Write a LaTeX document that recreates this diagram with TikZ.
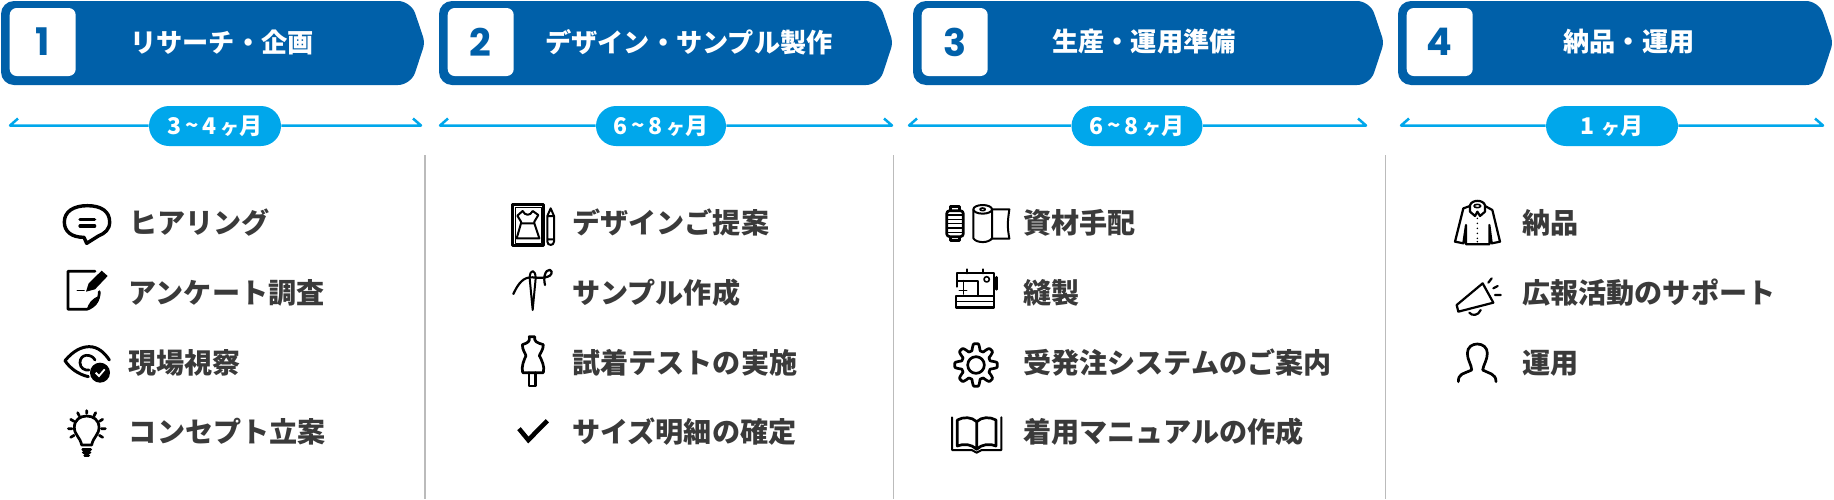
\documentclass[tikz,border=0pt]{standalone}
\usepackage{fontspec}
\setmainfont{Noto Sans CJK JP}
\newfontfamily\numfont{Poppins}
\definecolor{headblue}{HTML}{0060A9}
\definecolor{spanblue}{HTML}{00A7EB}
\definecolor{itemgray}{HTML}{3A3A3A}
\definecolor{sepgray}{HTML}{BBBBBB}
\tikzset{
  itemtext/.style={anchor=base west,inner sep=0pt,font=\fontsize{14.05}{16}\selectfont\bfseries,text=itemgray},
  headtitle/.style={inner sep=0pt,font=\fontsize{13.1}{15}\selectfont\bfseries,text=white},
  numbox/.style={fill=white,rounded corners=3.5pt,minimum width=33pt,minimum height=34pt,inner sep=0pt,font=\fontsize{19}{22}\selectfont\numfont\bfseries,text=headblue},
  pill/.style={fill=spanblue,rounded corners=10pt,minimum height=20pt,inner sep=0pt,font=\fontsize{11.5}{14}\selectfont\bfseries,text=white},
  spanline/.style={draw=spanblue,line width=1.25pt,line join=round},
  sepline/.style={draw=sepgray,line width=.7pt},
  icon/.style={draw=black,line width=1.35pt,line join=round,line cap=round},
  thin icon/.style={draw=black,line width=.8pt,line join=round,line cap=round},
  zA/.style={shift={(40,190)},scale=.33333},
  zB/.style={shift={(490,190)},scale=.33333},
  zC/.style={shift={(930,190)},scale=.33333},
  zD/.style={shift={(1430,190)},scale=.33333},
}
\newcommand{\headbar}[6]{% id, x0, x1, number, title, title centre
  \fill[headblue,rounded corners=6.5pt] (#2,43) -- (#2,1) -- ({#3-14},1) [rounded corners=3pt] -- (#3,42.5) [rounded corners=6.5pt] -- ({#3-14},85) -- (#2,85) -- cycle;
  \node[numbox] (#1box) at ({#2+41.7},42) {#4};
  \node[headtitle] (#1title) at (#6,42) {#5};
}
\newcommand{\spanbar}[6]{% id, left, right, pill centre, pill width, text
  \node[pill,minimum width=#5*.5pt] (#1pill) at (#4,126) {#6};
  \coordinate (#1l) at (#2,125.5); \coordinate (#1lh) at ({#2+8},118.5);
  \coordinate (#1r) at (#3,125.5); \coordinate (#1rh) at ({#3-8},118.5);
  \draw[spanline] (#1pill.west |- #1l) -- (#1l) -- (#1lh);
  \draw[spanline] (#1pill.east |- #1r) -- (#1r) -- (#1rh);
}
\newcommand{\mo}{{\fontsize{9.5}{12}\selectfont ヶ}}
\newcommand{\tld}{{\fontsize{11}{12}\selectfont\raisebox{.5pt}{\char"007E}}}
\begin{document}
\begin{tikzpicture}[x=.5pt,y=-.5pt]
\useasboundingbox (0,0) rectangle (1834,499);
\headbar{a}{1}{425}{1}{リサーチ・企画}{222}
\headbar{b}{439}{893}{2}{デザイン・サンプル製作}{689}
\headbar{c}{913}{1384}{3}{生産・運用準備}{1144}
\headbar{d}{1398}{1833}{4}{納品・運用}{1629}
\spanbar{a}{10}{421}{215}{132}{3\,\tld\,4\,\mo 月}
\spanbar{b}{440}{892}{661}{130}{6\,\tld\,8\,\mo 月}
\spanbar{c}{909}{1366}{1137}{131}{6\,\tld\,8\,\mo 月}
\spanbar{d}{1401}{1823}{1612}{132}{1\,\,\mo 月}
\coordinate (s1t) at (425,155); \coordinate (s1b) at (425,499);
\coordinate (s2t) at (893.5,155); \coordinate (s2b) at (893.5,499);
\coordinate (s3t) at (1385.5,155); \coordinate (s3b) at (1385.5,499);
\draw[sepline] (s1t) -- (s1b);
\draw[sepline] (s2t) -- (s2b);
\draw[sepline] (s3t) -- (s3b);
% column 1
\node[itemtext] (a1) at (129,233) {ヒアリング};
\node[itemtext] (a2) at (128.5,303) {アンケート調査};
\node[itemtext] (a3) at (128,373) {現場視察};
\node[itemtext] (a4) at (128.5,442) {コンセプト立案};
% column 2
\node[itemtext] (b1) at (572,233) {デザインご提案};
\node[itemtext] (b2) at (572,303) {サンプル作成};
\node[itemtext] (b3) at (572,373) {試着テストの実施};
\node[itemtext] (b4) at (572,442) {サイズ明細の確定};
% column 3
\node[itemtext] (c1) at (1023,233) {資材手配};
\node[itemtext] (c2) at (1023,303) {縫製};
\node[itemtext] (c3) at (1023,373) {受発注システムのご案内};
\node[itemtext] (c4) at (1023,442) {着用マニュアルの作成};
% column 4
\node[itemtext] (d1) at (1522,233) {納品};
\node[itemtext] (d2) at (1522,303) {広報活動のサポート};
\node[itemtext] (d3) at (1522,373) {運用};
% icons column 1
\begin{scope}[zA]
\draw[icon,line width=1.7pt] (132,142) .. controls (95,142) and (73,125) .. (73,96) .. controls (73,65) and (100,47) .. (142,47) .. controls (185,47) and (209,65) .. (209,96) .. controls (209,118) and (195,130) .. (175,138) -- (140,160) -- cycle;
\draw[icon,line width=1.6pt] (120,88) -- (164,88) (120,108) -- (164,108);
\draw[icon] (165,244) -- (84,244) -- (84,358) -- (140,358) .. controls (165,350) and (178,330) .. (178,305);
\fill (140,360) .. controls (145,340) and (155,325) .. (178,318) .. controls (178,340) and (165,352) .. (140,360) -- cycle;
\fill (185,242) -- (203,258) -- (165,298) -- (138,305) -- (146,280) -- cycle;
\draw[thin icon] (112,302) -- (132,302);
\draw[icon,line width=1.5pt] (75,512) .. controls (100,482) and (125,470) .. (148,470) .. controls (175,470) and (195,490) .. (208,510);
\draw[icon,line width=1.5pt] (75,512) .. controls (90,535) and (115,553) .. (145,560);
\draw[icon] (165,510) .. controls (155,490) and (120,490) .. (120,518) .. controls (120,535) and (135,542) .. (147,540);
\fill (180,548) circle (30);
\draw[white,line width=.9pt] (167,548) -- (177,558) -- (194,538);
\draw[icon] (125,765) .. controls (120,740) and (103,735) .. (103,712) .. controls (103,690) and (120,678) .. (140,678) .. controls (160,678) and (177,690) .. (177,712) .. controls (177,735) and (160,740) .. (155,765) -- cycle;
\draw[icon] (128,778) -- (152,778) (130,788) -- (150,788) (134,797) -- (146,797);
\draw[icon] (140,662) -- (140,670) (113,668) -- (118,678) (167,668) -- (162,678) (92,688) -- (102,694) (188,688) -- (178,694) (85,716) -- (96,716) (184,716) -- (196,716) (92,742) -- (102,736) (188,742) -- (178,736);
\end{scope}
% icons column 2
\begin{scope}[zB]
\draw[icon] (68,44) rectangle (160,167);
\draw[thin icon,line width=.5pt] (75,51) rectangle (153,160);
\draw[thin icon,line width=1pt] (98,63) .. controls (105,78) and (121,78) .. (128,63) -- (145,75) -- (133,95) -- (133,100) -- (148,145) -- (80,145) -- (93,100) -- (93,95) -- (82,77) -- cycle (93,100) -- (133,100);
\draw[thin icon,line width=1pt] (172,78) -- (182,55) -- (192,78) -- (192,155) .. controls (192,168) and (172,168) .. (172,155) -- cycle (172,78) -- (192,78) (172,148) -- (192,148);
\draw[icon,line width=1pt] (128,360) -- (119,265) .. controls (119,236) and (137,236) .. (137,265) -- cycle;
\draw[icon,line width=1.1pt] (70,312) .. controls (85,280) and (100,260) .. (128,262) .. controls (150,265) and (187,265) .. (185,245) .. controls (183,232) and (155,240) .. (165,285);
\draw[icon] (118,440) -- (134,440) .. controls (132,455) and (140,458) .. (160,464) .. controls (160,480) and (150,490) .. (148,497) .. controls (155,510) and (165,530) .. (160,548) -- (98,548) .. controls (93,530) and (102,510) .. (108,497) .. controls (106,490) and (97,480) .. (97,464) .. controls (115,458) and (120,455) .. (118,440) -- cycle;
\draw[icon] (117,548) -- (117,588) -- (137,588) -- (137,548);
\draw[icon,line width=2.3pt,line cap=butt,line join=miter] (87,716) -- (115,750) -- (172,692);
\end{scope}
% icons column 3
\begin{scope}[zC]
\draw[icon,rounded corners=1.5pt] (50,62) rectangle (100,140);
\draw[icon] (62,60) -- (62,50) -- (88,50) -- (88,60) (62,142) -- (62,152) -- (88,152) -- (88,142);
\draw[thin icon] (50,75) -- (100,75) (50,88) -- (100,88) (50,101) -- (100,101) (50,114) -- (100,114) (50,127) -- (100,127);
\draw[icon,line width=1pt] (158,58) ellipse (28 and 13);
\draw[thin icon] (158,58) ellipse (8 and 4);
\draw[icon,line width=1pt] (130,60) -- (130,145) .. controls (140,160) and (176,160) .. (186,145) -- (186,60);
\draw[icon,line width=1pt] (186,58) -- (238,58) .. controls (232,100) and (232,110) .. (238,146) -- (186,146);
% sewing machine
\draw[icon,line width=1.1pt] (82,290) -- (82,250) -- (192,250) -- (192,318) (82,272) -- (145,272) -- (145,318);
\draw[icon,line width=1.1pt] (110,238) -- (110,250) (160,238) -- (160,250);
\draw[thin icon] (100,272) -- (100,302) (88,302) -- (110,302) (100,302) -- (100,312);
\draw[thin icon] (170,268) circle (8);
\draw[icon] (78,318) -- (192,318) -- (192,352) -- (78,352) -- cycle;
\draw[thin icon] (78,335) -- (192,335);
\draw[icon] (200,262) -- (200,298);
% gear
\draw[icon] plot[domain=0:360,samples=145,smooth] ({138+(54+10*max(-1,min(1,1.6*cos(8*\x))))*cos(\x)},{525+(54+10*max(-1,min(1,1.6*cos(8*\x))))*sin(\x)}) -- cycle;
\draw[icon] (138,525) circle (25);
% book
\draw[icon] (82,690) .. controls (100,680) and (125,680) .. (140,695) .. controls (155,680) and (180,680) .. (198,690) -- (198,768) .. controls (180,760) and (155,762) .. (140,778) .. controls (125,762) and (100,760) .. (82,768) -- cycle (140,695) -- (140,778);
\draw[icon,line width=1pt] (66,682) -- (66,780) -- (125,780) -- (140,788) -- (155,780) -- (214,780) -- (214,682);
\end{scope}
% icons column 4
\begin{scope}[zD]
\draw[icon,line width=1.1pt] (120,48) -- (100,55) -- (75,155) -- (100,160) -- (108,105) -- (108,163) -- (178,163) -- (178,105) -- (185,160) -- (210,155) -- (187,60) -- (165,48);
\draw[icon,line width=1.1pt] (120,46) .. controls (125,28) and (160,28) .. (165,46) -- (165,65) -- (150,78) -- (142,65) -- (135,78) -- (120,65) -- cycle;
\draw[thin icon] (142,48) ellipse (10 and 5);
\foreach \yy in {85,100,115,130,145,155} \fill (142,\yy) circle (2.5);
\draw[icon,line width=1.1pt] (158,280) -- (80,345) -- (85,365) -- (190,338) -- cycle;
\draw[icon,line width=1.1pt] (118,368) .. controls (125,378) and (145,378) .. (152,360);
\draw[icon,line width=1.1pt] (175,278) -- (185,265) (190,295) -- (203,288) (195,315) -- (212,315);
\draw[icon] (85,575) .. controls (85,550) and (100,552) .. (125,540) .. controls (125,525) and (112,510) .. (112,490) .. controls (112,470) and (128,462) .. (142,462) .. controls (158,462) and (172,472) .. (172,490) .. controls (172,510) and (160,525) .. (158,540) .. controls (175,550) and (198,550) .. (198,575);
\end{scope}
\end{tikzpicture}
\end{document}
